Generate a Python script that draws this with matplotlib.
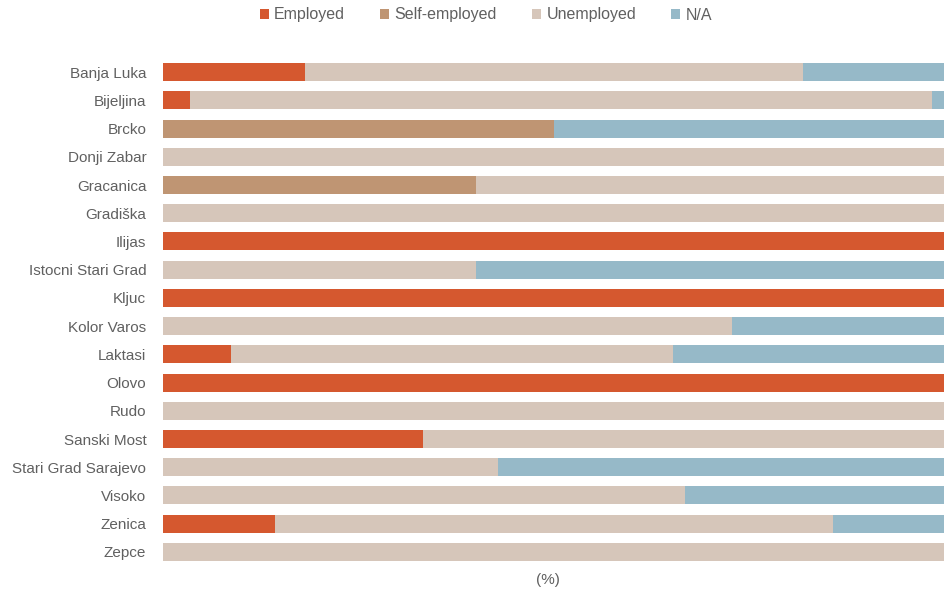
import matplotlib
matplotlib.use('Agg')
import matplotlib.pyplot as plt
import numpy as np

plt.rcParams.update({
    'font.family': ['Liberation Sans', 'DejaVu Sans'],
    'font.size': 11,
})

EMPLOYED_C = '#D5582F'
SELF_C = '#BF9573'
UNEMP_C = '#D6C6BA'
NA_C = '#96B9C8'
TEXT_C = '#606060'

places = ['Banja Luka', 'Bijeljina', 'Brcko', 'Donji Zabar', 'Gracanica', 'Gradiška',
          'Ilijas', 'Istocni Stari Grad', 'Kljuc', 'Kolor Varos', 'Laktasi', 'Olovo',
          'Rudo', 'Sanski Most', 'Stari Grad Sarajevo', 'Visoko', 'Zenica', 'Zepce']
employed = [18.2, 3.4, 0, 0, 0, 0, 100, 0, 100, 0, 8.7, 100, 0, 33.3, 0, 0, 14.3, 0]
self_employed = [0, 0, 50, 0, 40, 0, 0, 0, 0, 0, 0, 0, 0, 0, 0, 0, 0, 0]
unemployed = [63.6, 95.0, 0, 100, 60, 100, 0, 40, 0, 72.7, 56.5, 0, 100, 66.7, 42.9, 66.7, 71.4, 100]
not_avail = [18.2, 1.6, 50, 0, 0, 0, 0, 60, 0, 27.3, 34.8, 0, 0, 0, 57.1, 33.3, 14.3, 0]

fig = plt.figure(figsize=(9.45, 5.93), dpi=100)
ax = fig.add_axes([163 / 945, 1 - 566 / 593, 1 - 163 / 945, (566 - 58) / 593])

y = np.arange(len(places))
left = np.zeros(len(places))
for series, color, label in [(employed, EMPLOYED_C, 'Employed'),
                             (self_employed, SELF_C, 'Self-employed'),
                             (unemployed, UNEMP_C, 'Unemployed'),
                             (not_avail, NA_C, 'N/A')]:
    ax.barh(y, series, left=left, height=0.64, color=color, label=label)
    left = left + np.array(series)

ax.set_xlim(0, 100)
ax.set_ylim(len(places) - 0.5, -0.5)
ax.set_yticks(y)
ax.set_yticklabels(places, color=TEXT_C, fontsize=11)
ax.set_xticks([])
ax.tick_params(axis='y', length=0, pad=12)
for s in ax.spines.values():
    s.set_visible(False)

fig.legend(loc='center', bbox_to_anchor=(486 / 945, 1 - 15 / 593), ncol=4, frameon=False,
           fontsize=11.5, handlelength=0.55, handleheight=0.55, handletextpad=0.35,
           columnspacing=2.2, labelcolor=TEXT_C)
fig.text(548 / 945, 1 - 580 / 593, '(%)', ha='center', va='center', color=TEXT_C, fontsize=11)

fig.savefig('out.png', dpi=100, facecolor='white')
